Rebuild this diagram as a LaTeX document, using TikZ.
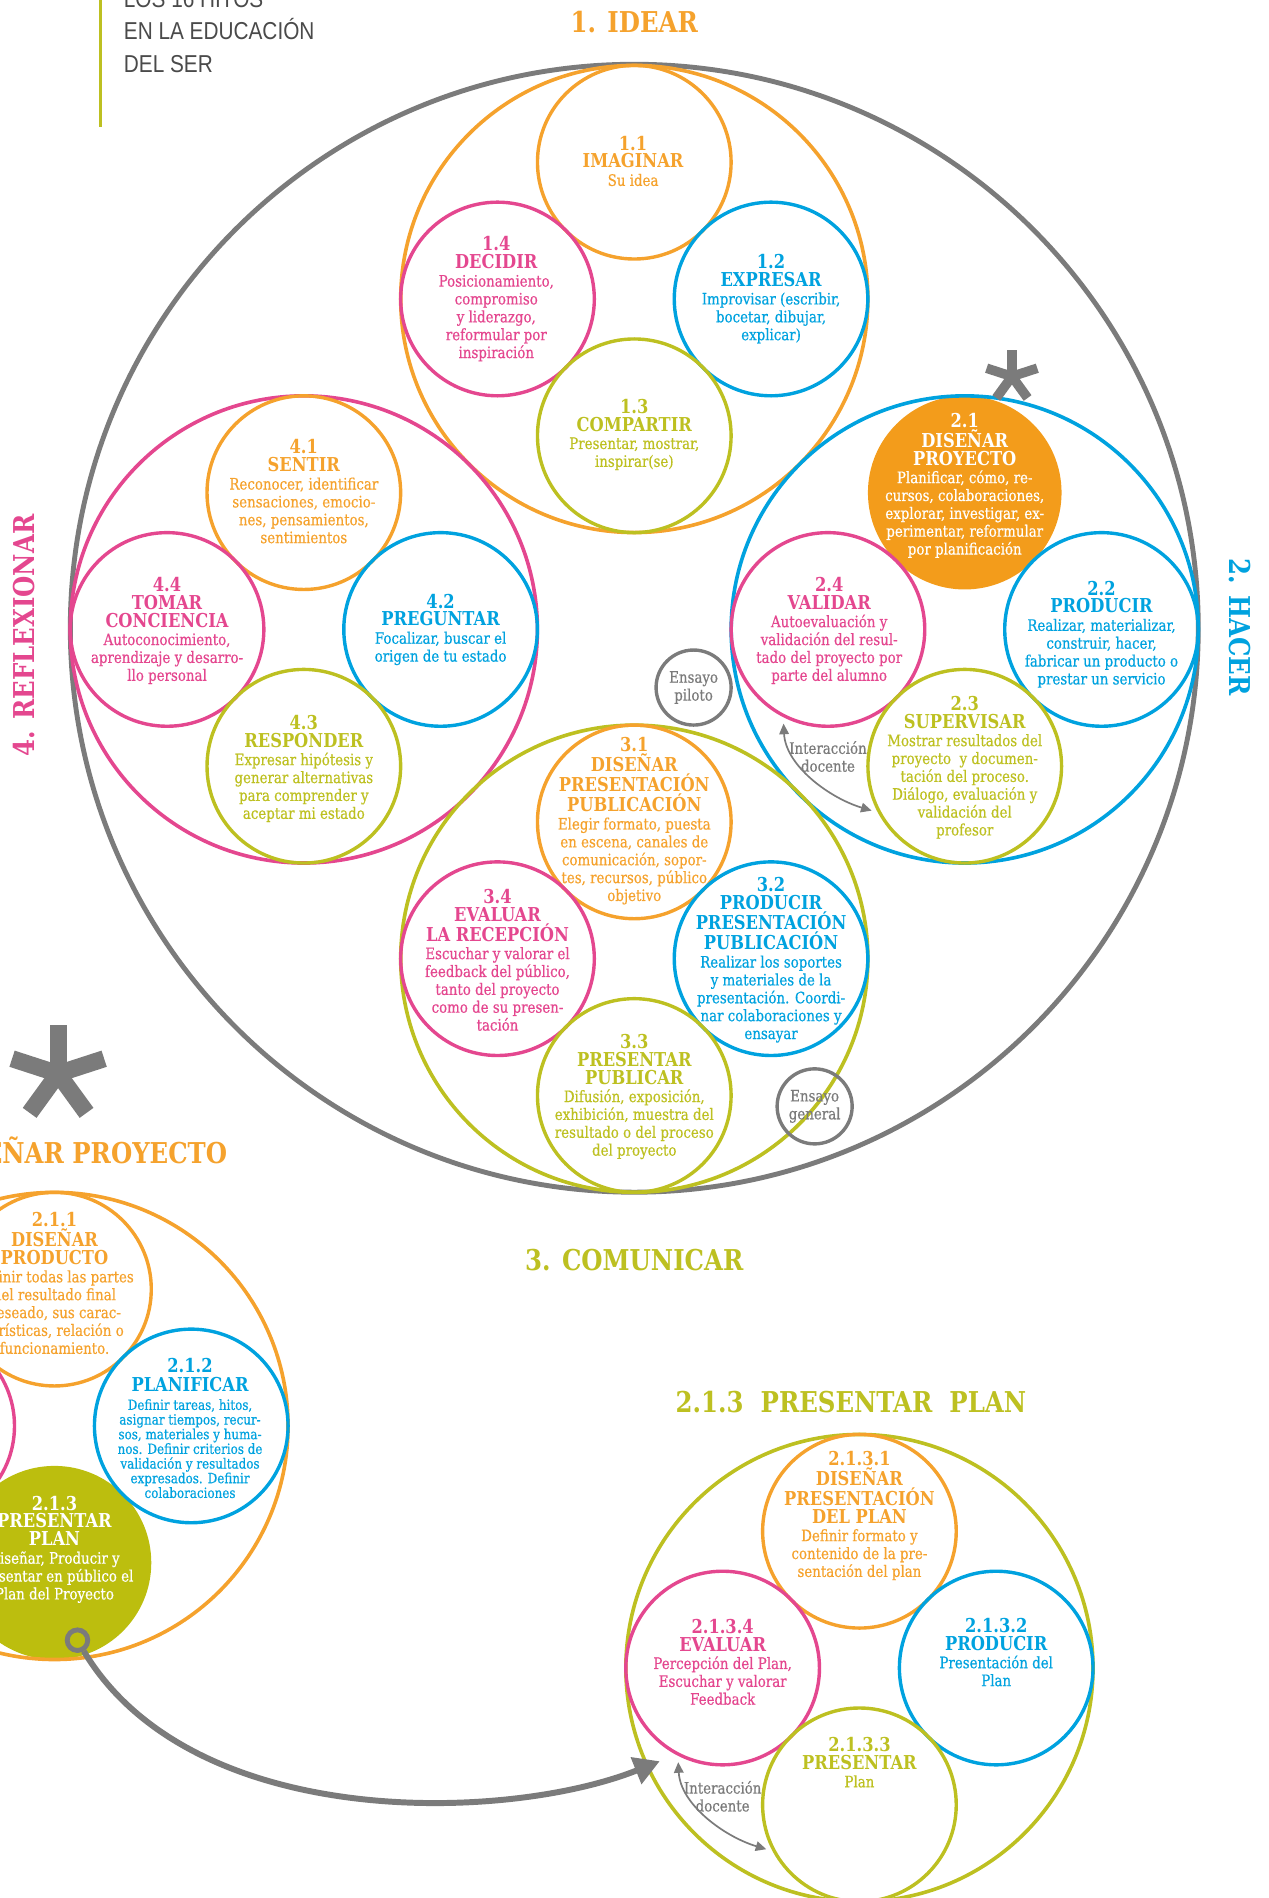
\documentclass[tikz,border=0pt]{standalone}
\usepackage{fontspec}
\setmainfont{DejaVu Serif}[FakeStretch=0.85,UprightFeatures={FakeBold=0.6}]
\newfontfamily\cabecera{Liberation Sans}[FakeStretch=0.85]
\usetikzlibrary{arrows.meta}
\definecolor{naranja}{HTML}{F5A22D}
\definecolor{naranjaf}{HTML}{F39C1B}
\definecolor{rosa}{HTML}{E4478F}
\definecolor{azul}{HTML}{00A2DF}
\definecolor{verde}{HTML}{BDC021}
\definecolor{verdef}{HTML}{BCBE0E}
\definecolor{gris}{HTML}{7B7B7B}
\definecolor{grisosc}{HTML}{4A4A4A}
\newcommand{\hitotit}[1]{{\fontsize{9}{8.4}\selectfont\bfseries #1}}
\tikzset{
  hito/.style={circle,draw=#1,line width=1.6pt,minimum size=3.2cm,inner sep=0pt},
  hitolleno/.style={circle,fill=#1,minimum size=3.2cm,inner sep=0pt},
  grupo/.style={circle,draw=#1,line width=1.7pt,minimum size=7.72cm,inner sep=0pt},
  texto/.style={align=center,text=#1,inner sep=0pt,font=\fontsize{7.4}{8.4}\selectfont},
  fase/.style={text=#1,inner sep=0pt,font=\fontsize{13.5}{14}\selectfont\bfseries},
  ensayo/.style={circle,draw=gris,line width=1.6pt,minimum size=1.24cm,inner sep=0pt},
  interaccion/.style={gris,line width=0.8pt,shorten <=3pt,shorten >=3pt,
    {Triangle[length=5pt,width=4.5pt]}-{Triangle[length=5pt,width=4.5pt]}},
}
\begin{document}
\begin{tikzpicture}[x=0.02cm,y=-0.02cm]
\useasboundingbox (0,0) rectangle (1048,1568);
\clip (0,0) rectangle (1048,1568);
% cabecera
\draw[verde,line width=1.7pt] (83,0) -- (83,105);
\node[anchor=west,align=left,text=grisosc,inner sep=0pt,font=\cabecera\fontsize{11.5}{15.3}\selectfont] (cabecera) at (102,26) {LOS 16 HITOS\\EN LA EDUCACIÓN\\DEL SER};
% circulo de los hitos
\node[circle,draw=gris,line width=2.3pt,minimum size=18.64cm,inner sep=0pt] (hitos) at (524,519) {};
\node[hitolleno=naranjaf] (c21) at (797,407) {};
\node[hitolleno=verdef] (c213) at (45,1291) {};
\node[grupo=naranja] (idear) at (524,247) {};
\node[grupo=azul] (hacer) at (797,520) {};
\node[grupo=rosa] (reflexionar) at (251,520) {};
\node[grupo=verde] (comunicar) at (524,792) {};
\node[grupo=naranja] (disenar) at (45,1178) {};
\node[grupo=verde] (plan) at (710,1378) {};
% 1. idear
\node[hito=naranja] (c11) at (524,134) {};
\node[hito=rosa] (c14) at (411,247) {};
\node[hito=azul] (c12) at (637,247) {};
\node[hito=verde] (c13) at (524,360) {};
% 2. hacer
\node[hito=rosa] (c24) at (684,520) {};
\node[hito=azul] (c22) at (910,520) {};
\node[hito=verde] (c23) at (797,633) {};
% 4. reflexionar
\node[hito=naranja] (c41) at (251,407) {};
\node[hito=rosa] (c44) at (138,520) {};
\node[hito=azul] (c42) at (364,520) {};
\node[hito=verde] (c43) at (251,633) {};
% 3. comunicar
\node[hito=naranja] (c31) at (524,679) {};
\node[hito=rosa] (c34) at (411,792) {};
\node[hito=azul] (c32) at (637,792) {};
\node[hito=verde] (c33) at (524,905) {};
% 2.1 disenar proyecto
\node[hito=naranja] (c211) at (45,1065) {};
\node[hito=rosa] (c214) at (-68,1178) {};
\node[hito=azul] (c212) at (158,1178) {};
% 2.1.3 presentar plan
\node[hito=naranja] (c2131) at (710,1265) {};
\node[hito=rosa] (c2134) at (597,1378) {};
\node[hito=azul] (c2132) at (823,1378) {};
\node[hito=verde] (c2133) at (710,1491) {};
% ensayos
\node[ensayo,texto=gris] (piloto) at (573,568) {Ensayo\\piloto};
\node[ensayo,texto=gris] (general) at (673,914) {Ensayo\\general};
% asteriscos
\coordinate (ast1) at (836,311);
\coordinate (ast2) at (48,887);
\foreach \a in {-90,-18,54,126,198} {
  \draw[gris,line width=4.5pt] (ast1) -- ++(\a:22);
  \draw[gris,line width=8pt] (ast2) -- ++(\a:40);
}
% flechas
\draw[interaccion] (c24.243) .. controls +(2,40) and +(-40,-12) .. (c23.208);
\draw[interaccion] (c2134.243) .. controls +(2,40) and +(-40,-12) .. (c2133.208);
\node[circle,draw=gris,line width=2.3pt,minimum size=0.34cm,inner sep=0pt] (anillo) at (64,1355) {};
\coordinate (llegada) at (545,1455);
\draw[gris,line width=2.8pt,-{Triangle[length=12pt,width=13pt]}] (anillo.-60) .. controls +(90,150) and +(-125,50) .. (llegada);
% titulos de fase
\node[fase=naranja] (idearlbl) at (524,18) {1. IDEAR};
\node[fase=azul,rotate=-90] (hacerlbl) at (1024,518) {2. HACER};
\node[fase=rosa,rotate=90] (reflexlbl) at (20,525) {4. REFLEXIONAR};
\node[fase=verde] (comunicarlbl) at (524,1041) {3. COMUNICAR};
\node[fase=naranja,anchor=east] (disenarlbl) at (188,950) {DISEÑAR PROYECTO};
\node[fase=verde] (planlbl) at (703,1158) {2.1.3\ \ PRESENTAR\ \ PLAN};
% textos
\node[texto=naranja] (t11) at (523,133) {\hitotit{1.1}\\\hitotit{IMAGINAR}\\Su idea};
\node[texto=rosa] (t14) at (410,247) {\hitotit{1.4}\\\hitotit{DECIDIR}\\Posicionamiento,\\compromiso\\y liderazgo,\\reformular por\\inspiración};
\node[texto=azul] (t12) at (637,247) {\hitotit{1.2}\\\hitotit{EXPRESAR}\\Improvisar (escribir,\\bocetar, dibujar,\\explicar)};
\node[texto=verde] (t13) at (524,359) {\hitotit{1.3}\\\hitotit{COMPARTIR}\\Presentar, mostrar,\\inspirar(se)};
\node[texto=white] (t21) at (797,401) {\hitotit{2.1}\\\hitotit{DISEÑAR}\\\hitotit{PROYECTO}\\Planificar, cómo, re-\\cursos, colaboraciones,\\explorar, investigar, ex-\\perimentar, reformular\\por planificación};
\node[texto=rosa] (t24) at (685,521) {\hitotit{2.4}\\\hitotit{VALIDAR}\\Autoevaluación y\\validación del resul-\\tado del proyecto por\\parte del alumno};
\node[texto=azul] (t22) at (910,524) {\hitotit{2.2}\\\hitotit{PRODUCIR}\\Realizar, materializar,\\construir, hacer,\\fabricar un producto o\\prestar un servicio};
\node[texto=verde] (t23) at (797,634) {\hitotit{2.3}\\\hitotit{SUPERVISAR}\\Mostrar resultados del\\proyecto\ \ y documen-\\tación del proceso.\\Diálogo, evaluación y\\validación del\\profesor};
\node[texto=naranja] (t41) at (251,406) {\hitotit{4.1}\\\hitotit{SENTIR}\\Reconocer, identificar\\sensaciones, emocio-\\nes, pensamientos,\\sentimientos};
\node[texto=rosa] (t44) at (138,521) {\hitotit{4.4}\\\hitotit{TOMAR}\\\hitotit{CONCIENCIA}\\Autoconocimiento,\\aprendizaje y desarro-\\llo personal};
\node[texto=azul] (t42) at (364,520) {\hitotit{4.2}\\\hitotit{PREGUNTAR}\\Focalizar, buscar el\\origen de tu estado};
\node[texto=verde] (t43) at (251,635) {\hitotit{4.3}\\\hitotit{RESPONDER}\\Expresar hipótesis y\\generar alternativas\\para comprender y\\aceptar mi estado};
\node[texto=naranja] (t31) at (524,678) {\hitotit{3.1}\\\hitotit{DISEÑAR}\\\hitotit{PRESENTACIÓN}\\\hitotit{PUBLICACIÓN}\\Elegir formato, puesta\\en escena, canales de\\comunicación, sopor-\\tes, recursos, público\\objetivo};
\node[texto=rosa] (t34) at (411,793) {\hitotit{3.4}\\\hitotit{EVALUAR}\\\hitotit{LA RECEPCIÓN}\\Escuchar y valorar el\\feedback del público,\\tanto del proyecto\\como de su presen-\\tación};
\node[texto=azul] (t32) at (637,793) {\hitotit{3.2}\\\hitotit{PRODUCIR}\\\hitotit{PRESENTACIÓN}\\\hitotit{PUBLICACIÓN}\\Realizar los soportes\\y materiales de la\\presentación. Coordi-\\nar colaboraciones y\\ensayar};
\node[texto=verde] (t33) at (524,906) {\hitotit{3.3}\\\hitotit{PRESENTAR}\\\hitotit{PUBLICAR}\\Difusión, exposición,\\exhibición, muestra del\\resultado o del proceso\\del proyecto};
\node[texto=naranja] (t211) at (45,1060) {\hitotit{2.1.1}\\\hitotit{DISEÑAR}\\\hitotit{PRODUCTO}\\Definir todas las partes\\del resultado final\\deseado, sus carac-\\terísticas, relación o\\funcionamiento.};
\node[texto=azul,font=\fontsize{6.6}{6.9}\selectfont] (t212) at (157,1180) {\hitotit{2.1.2}\\[1.8pt]\hitotit{PLANIFICAR}\\[1.8pt]Definir tareas, hitos,\\asignar tiempos, recur-\\sos, materiales y huma-\\nos. Definir criterios de\\validación y resultados\\expresados. Definir\\colaboraciones};
\node[texto=white] (t213) at (45,1280) {\hitotit{2.1.3}\\\hitotit{PRESENTAR}\\\hitotit{PLAN}\\Diseñar, Producir y\\Presentar en público el\\Plan del Proyecto};
\node[texto=naranja] (t2131) at (710,1252) {\hitotit{2.1.3.1}\\\hitotit{DISEÑAR}\\\hitotit{PRESENTACIÓN}\\\hitotit{DEL PLAN}\\Definir formato y\\contenido de la pre-\\sentación del plan};
\node[texto=rosa] (t2134) at (597,1373) {\hitotit{2.1.3.4}\\\hitotit{EVALUAR}\\Percepción del Plan,\\Escuchar y valorar\\Feedback};
\node[texto=azul] (t2132) at (823,1365) {\hitotit{2.1.3.2}\\\hitotit{PRODUCIR}\\Presentación del\\Plan};
\node[texto=verde] (t2133) at (710,1456) {\hitotit{2.1.3.3}\\\hitotit{PRESENTAR}\\Plan};
\node[texto=gris] (inter2) at (684,625) {Interacción\\docente};
\node[texto=gris] (inter2134) at (597,1484) {Interacción\\docente};
\end{tikzpicture}
\end{document}
